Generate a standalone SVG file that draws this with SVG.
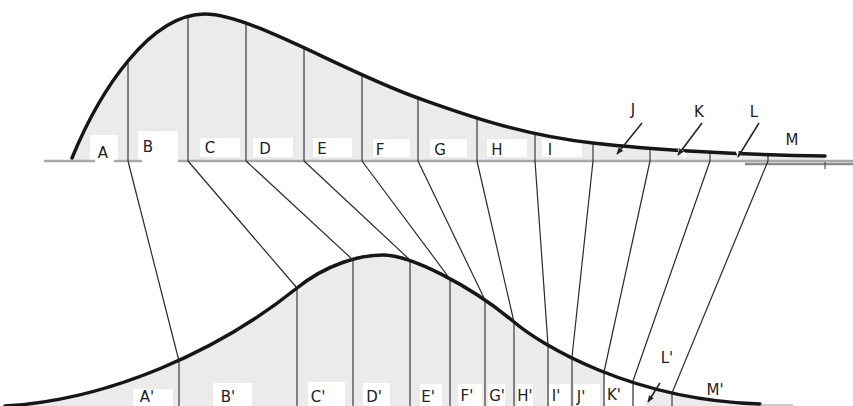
<svg xmlns="http://www.w3.org/2000/svg" width="853" height="406" viewBox="0 0 853 406">
<defs>
<style>
.fill{fill:#ebebeb;stroke:none}
.curve{fill:none;stroke:#161616;stroke-width:3.5;stroke-linecap:round}
.base{stroke:#a8a8a8;stroke-width:2.5}
.div{stroke:#3a3a3a;stroke-width:1.2}
.conn{stroke:#2a2a2a;stroke-width:1.2;fill:none}
.box{fill:#ffffff}
.lbl{font-family:"DejaVu Sans",Verdana,sans-serif;font-size:15px;fill:#222;text-anchor:middle}
.arr{stroke:#222;stroke-width:1.5;fill:none}
</style>
<marker id="ah" viewBox="0 0 10 10" refX="9" refY="5" markerWidth="7" markerHeight="7" orient="auto" markerUnits="userSpaceOnUse">
<path d="M0,1 L10,5 L0,9 Z" fill="#222"/>
</marker>
</defs>
<rect width="853" height="406" fill="#ffffff"/>

<g id="top-distribution">
<path class="fill" d="M72,158 C100,90 150,14 205,14 C250,14 340,70 418,98 C460,113 520,135 593,143 C650,149.5 740,155 825,156 L825,161 L72,161 Z"/>
<g id="top-boxes">
<rect class="box" x="90" y="135" width="28" height="26"/>
<rect class="box" x="138" y="131" width="40" height="30"/>
<rect class="box" x="200" y="138" width="40" height="19"/>
<rect class="box" x="253" y="138" width="40" height="19"/>
<rect class="box" x="313" y="138" width="39" height="19"/>
<rect class="box" x="373" y="139" width="37" height="18"/>
<rect class="box" x="430" y="139" width="37" height="18"/>
<rect class="box" x="487" y="139" width="40" height="18"/>
<rect class="box" x="542" y="139" width="40" height="18"/>
</g>
<g id="baseline">
<line class="base" x1="44" y1="161" x2="95" y2="161"/>
<line class="base" x1="114" y1="161" x2="142" y2="161"/>
<line class="base" x1="178" y1="161" x2="853" y2="161"/>
<line stroke="#8c8c8c" stroke-width="2.5" x1="745" y1="164" x2="853" y2="164"/>
<line stroke="#555" stroke-width="1.2" x1="825" y1="162" x2="825" y2="169"/>
</g>
<g id="top-dividers">
<line class="div" x1="128" y1="60" x2="128" y2="161"/>
<line class="div" x1="188" y1="17" x2="188" y2="161"/>
<line class="div" x1="246" y1="23" x2="246" y2="161"/>
<line class="div" x1="304" y1="47" x2="304" y2="161"/>
<line class="div" x1="362" y1="74" x2="362" y2="161"/>
<line class="div" x1="418" y1="98" x2="418" y2="161"/>
<line class="div" x1="477" y1="118" x2="477" y2="161"/>
<line class="div" x1="535" y1="133" x2="535" y2="161"/>
<line class="div" x1="593" y1="143" x2="593" y2="161"/>
<line class="div" x1="650" y1="148" x2="650" y2="161"/>
<line class="div" x1="710" y1="152" x2="710" y2="161"/>
<line class="div" x1="768" y1="154" x2="768" y2="161"/>
</g>
<path class="curve" d="M72,158 C100,90 150,14 205,14 C250,14 340,70 418,98 C460,113 520,135 593,143 C650,149.5 740,155 825,156"/>
<line stroke="#ffffff" stroke-width="4" x1="679" y1="149" x2="686" y2="157"/>
<line stroke="#ffffff" stroke-width="3" x1="737" y1="151" x2="741" y2="159"/>
</g>

<g id="bottom-distribution">
<path class="fill" d="M5,406 C110,400 220,350 297,288 C327,264 360,255 383,255 C410,255 470,285 514,322 C540,344 630,400 760,404 L760,406 Z"/>
<g id="bottom-boxes">
<rect class="box" x="133" y="389" width="40" height="17"/>
<rect class="box" x="213" y="383" width="39" height="23"/>
<rect class="box" x="308" y="382" width="37" height="24"/>
<rect class="box" x="363" y="383" width="27" height="23"/>
<rect class="box" x="420" y="384" width="22" height="22"/>
<rect class="box" x="458" y="384" width="24" height="22"/>
<rect class="box" x="488" y="384" width="17" height="22"/>
<rect class="box" x="517" y="384" width="16" height="22"/>
<rect class="box" x="549" y="384" width="21" height="22"/>
<rect class="box" x="574" y="384" width="26" height="22"/>
<rect class="box" x="605" y="374" width="27" height="32"/>
<path class="box" d="M634,383 L652,390 L645,406 L634,406 Z"/>
</g>
<g id="bottom-dividers">
<line class="div" x1="179" y1="361" x2="179" y2="406"/>
<line class="div" x1="297" y1="288" x2="297" y2="406"/>
<line class="div" x1="353" y1="260" x2="353" y2="406"/>
<line class="div" x1="410" y1="260" x2="410" y2="406"/>
<line class="div" x1="450" y1="279" x2="450" y2="406"/>
<line class="div" x1="485" y1="300" x2="485" y2="406"/>
<line class="div" x1="514" y1="322" x2="514" y2="406" stroke-width="2"/>
<line class="div" x1="548" y1="345" x2="548" y2="406"/>
<line class="div" x1="572" y1="357" x2="572" y2="406"/>
<line class="div" x1="604" y1="372" x2="604" y2="406"/>
<line class="div" x1="633" y1="381" x2="633" y2="406"/>
<line class="div" x1="672" y1="393" x2="672" y2="406"/>
</g>
<path class="curve" d="M5,406 C110,400 220,350 297,288 C327,264 360,255 383,255 C410,255 470,285 514,322 C540,344 630,400 760,404"/>
<line stroke="#999" stroke-width="1" x1="760" y1="405" x2="793" y2="405"/>
</g>

<g id="connectors">
<line class="conn" x1="128" y1="161" x2="179" y2="361"/>
<line class="conn" x1="188" y1="161" x2="297" y2="288"/>
<line class="conn" x1="246" y1="161" x2="353" y2="260"/>
<line class="conn" x1="304" y1="161" x2="410" y2="260"/>
<line class="conn" x1="362" y1="161" x2="450" y2="279"/>
<line class="conn" x1="418" y1="161" x2="485" y2="300"/>
<line class="conn" x1="477" y1="161" x2="514" y2="322"/>
<line class="conn" x1="535" y1="161" x2="548" y2="345"/>
<line class="conn" x1="593" y1="161" x2="572" y2="357"/>
<line class="conn" x1="650" y1="161" x2="604" y2="372"/>
<line class="conn" x1="710" y1="161" x2="633" y2="381"/>
<line class="conn" x1="768" y1="161" x2="672" y2="393"/>
</g>

<g id="pointers">
<line class="arr" x1="642" y1="123" x2="617" y2="154" marker-end="url(#ah)"/>
<line class="arr" x1="702" y1="123" x2="678" y2="155" marker-end="url(#ah)"/>
<line class="arr" x1="759" y1="123" x2="738" y2="157" marker-end="url(#ah)"/>
<line class="arr" x1="660" y1="383" x2="648" y2="402" marker-end="url(#ah)"/>
</g>

<g id="labels-top">
<text class="lbl" x="103" y="158">A</text>
<text class="lbl" x="148" y="152">B</text>
<text class="lbl" x="210" y="153">C</text>
<text class="lbl" x="265" y="154">D</text>
<text class="lbl" x="322" y="154">E</text>
<text class="lbl" x="380" y="155">F</text>
<text class="lbl" x="440" y="155">G</text>
<text class="lbl" x="497" y="155">H</text>
<text class="lbl" x="550" y="155">I</text>
<text class="lbl" x="633" y="115">J</text>
<text class="lbl" x="699" y="117">K</text>
<text class="lbl" x="754" y="117">L</text>
<text class="lbl" x="792" y="145">M</text>
</g>
<g id="labels-bottom">
<text class="lbl" x="147" y="402">A'</text>
<text class="lbl" x="228" y="402">B'</text>
<text class="lbl" x="318" y="402">C'</text>
<text class="lbl" x="374" y="402">D'</text>
<text class="lbl" x="428" y="402">E'</text>
<text class="lbl" x="467" y="401">F'</text>
<text class="lbl" x="497" y="401">G'</text>
<text class="lbl" x="525" y="401">H'</text>
<text class="lbl" x="556" y="401">I'</text>
<text class="lbl" x="581" y="402">J'</text>
<text class="lbl" x="614" y="400">K'</text>
<text class="lbl" x="667" y="363">L'</text>
<text class="lbl" x="715" y="395">M'</text>
</g>
</svg>
